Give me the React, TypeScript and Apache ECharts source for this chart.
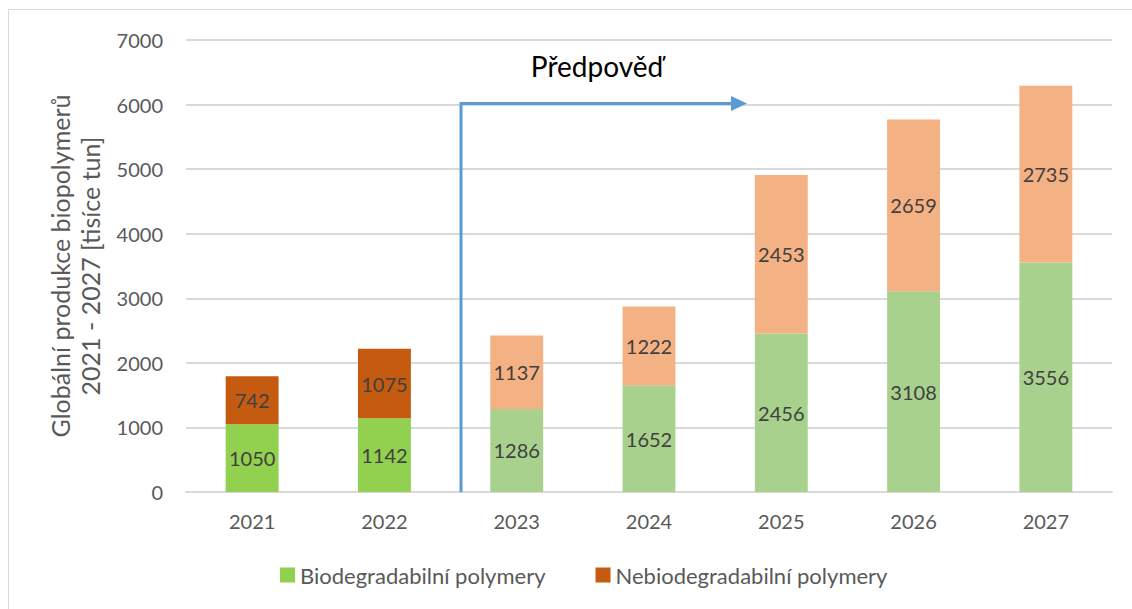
import React, { useEffect, useRef } from "react";
import * as echarts from "echarts";

const years = ["2021", "2022", "2023", "2024", "2025", "2026", "2027"];
const biodegradable = [1050, 1142, 1286, 1652, 2456, 3108, 3556];
const nonBiodegradable = [742, 1075, 1137, 1222, 2453, 2659, 2735];
const forecastFrom = 2; // index of first forecast year
const seriesNames = ["Biodegradabilní polymery", "Nebiodegradabilní polymery"];
const yTicks = { min: 0, max: 7000, interval: 1000 };

const GREEN = "#92D050";
const GREEN_LIGHT = "#A9D18E";
const ORANGE = "#C55A11";
const ORANGE_LIGHT = "#F4B183";
const FONT = "Lato, 'Noto Sans', sans-serif";

export default function App() {
  const ref = useRef<HTMLDivElement>(null);
  useEffect(() => {
    document.body.style.margin = "0";
    const chart = echarts.init(ref.current!, null, { renderer: "svg" });
    const mk = (vals: number[], dark: string, light: string) =>
      vals.map((v, i) => ({ value: v, itemStyle: { color: i < forecastFrom ? dark : light } }));
    const label = {
      show: true,
      position: "inside",
      color: "#404040",
      fontSize: 20,
      fontFamily: FONT,
    };
    chart.setOption({
      animation: false,
      textStyle: { fontFamily: FONT },
      grid: { left: 186, right: 20, top: 40, bottom: 117, containLabel: false },
      legend: {
        bottom: 18,
        left: 275,
        itemWidth: 15,
        itemHeight: 15,
        itemGap: 50,
        icon: "rect",
        textStyle: { color: "#595959", fontSize: 22, fontFamily: FONT },
        data: seriesNames,
      },
      xAxis: {
        type: "category",
        data: years,
        axisLine: { lineStyle: { color: "#D9D9D9", width: 2 } },
        axisTick: { show: false },
        axisLabel: { color: "#595959", fontSize: 20, margin: 19, fontFamily: FONT },
      },
      yAxis: {
        type: "value",
        min: yTicks.min,
        max: yTicks.max,
        interval: yTicks.interval,
        name: "Globální produkce biopolymerů\n2021 - 2027 [tisíce tun]",
        nameLocation: "middle",
        nameGap: 81,
        nameTextStyle: { color: "#595959", fontSize: 25, lineHeight: 30, fontFamily: FONT },
        axisLine: { show: false },
        axisTick: { show: false },
        axisLabel: {
          color: "#595959",
          fontSize: 20,
          margin: 23,
          fontFamily: FONT,
          formatter: (v: number) => String(v),
        },
        splitLine: { lineStyle: { color: "#D9D9D9", width: 2 } },
      },
      series: [
        {
          name: seriesNames[0],
          type: "bar",
          stack: "total",
          barWidth: "40%",
          itemStyle: { color: GREEN },
          label,
          data: mk(biodegradable, GREEN, GREEN_LIGHT),
        },
        {
          name: seriesNames[1],
          type: "bar",
          stack: "total",
          barWidth: "40%",
          itemStyle: { color: ORANGE },
          label,
          data: mk(nonBiodegradable, ORANGE, ORANGE_LIGHT),
        },
      ],
      graphic: [
        {
          type: "rect",
          shape: { x: 8.5, y: 9.5, width: 1200, height: 700 },
          style: { fill: "none", stroke: "#D9D9D9", lineWidth: 1 },
          silent: true,
        },
        {
          type: "polyline",
          shape: { points: [[461, 492], [461, 103.5], [735, 103.5]] },
          style: { fill: "none", stroke: "#5B9BD5", lineWidth: 3 },
          z: 10,
        },
        {
          type: "polygon",
          shape: { points: [[731, 96], [747, 103.5], [731, 111]] },
          style: { fill: "#5B9BD5" },
          z: 10,
        },
        {
          type: "text",
          x: 597,
          y: 66,
          style: {
            text: "Předpověď",
            fill: "#000000",
            fontSize: 28,
            fontFamily: FONT,
            align: "center",
            verticalAlign: "middle",
          },
          z: 10,
        },
      ],
    });
    return () => chart.dispose();
  }, []);
  return <div ref={ref} style={{ width: 1132, height: 609 }} />;
}
